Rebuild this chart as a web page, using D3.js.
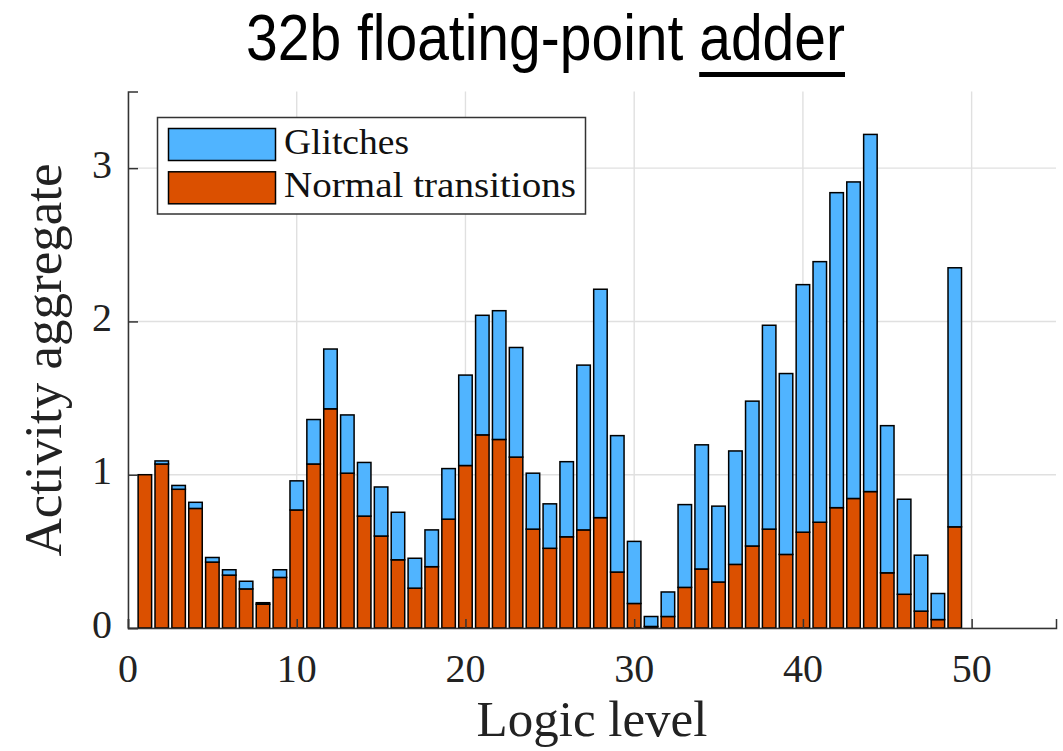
<!DOCTYPE html>
<html>
<head>
<meta charset="utf-8">
<script src="https://cdn.jsdelivr.net/npm/d3@7"></script>
<style>
  html, body { margin: 0; padding: 0; background: #fff; }
  svg { display: block; }
</style>
</head>
<body>
<svg id="chart" width="1063" height="751"></svg>
<script>
// Logic levels of the adder netlist
const levels = [1,2,3,4,5,6,7,8,9,10,11,12,13,14,15,16,17,18,19,20,21,22,23,24,25,
                26,27,28,29,30,31,32,33,34,35,36,37,38,39,40,41,42,43,44,45,46,47,48,49];

// Aggregate activity from regular (functional) transitions per level
const normalTransitions = [1.00,1.07,0.905,0.78,0.43,0.345,0.255,0.155,0.33,0.77,
                           1.07,1.43,1.01,0.73,0.60,0.445,0.26,0.40,0.71,1.06,
                           1.26,1.23,1.115,0.645,0.52,0.595,0.64,0.72,0.365,0.16,
                           0.01,0.075,0.265,0.385,0.30,0.415,0.535,0.645,0.48,0.625,
                           0.69,0.785,0.845,0.89,0.36,0.22,0.11,0.055,0.66];

// Aggregate activity from glitches per level (stacked on top)
const glitches = [0.00,0.02,0.025,0.04,0.03,0.035,0.05,0.01,0.05,0.19,
                  0.29,0.39,0.38,0.35,0.32,0.31,0.195,0.24,0.33,0.59,
                  0.78,0.84,0.715,0.365,0.29,0.49,1.075,1.49,0.89,0.405,
                  0.065,0.16,0.54,0.81,0.495,0.74,0.945,1.33,1.18,1.615,
                  1.70,2.055,2.065,2.33,0.96,0.62,0.365,0.17,1.69];

const seriesNames = ["Normal transitions", "Glitches"];
const legendOrder = ["Glitches", "Normal transitions"];
const xTicks = [0, 10, 20, 30, 40, 50];
const yTicks = [0, 1, 2, 3];

const colors = { "Glitches": "#50B4FF", "Normal transitions": "#DB5000" };
const legendWidths = { "Glitches": 125, "Normal transitions": 292 };

const svg = d3.select("#chart");
const plot = { left: 128, right: 1056, top: 91.5, bottom: 628 };

const x = d3.scaleLinear().domain([0, 55]).range([plot.left, plot.right]);
const y = d3.scaleLinear().domain([0, 3.5]).range([plot.bottom, plot.top]);

const barWidth = 0.8;

// Table of rows for stacking
const rows = levels.map((lv, i) => ({
  level: lv,
  "Normal transitions": normalTransitions[i],
  "Glitches": glitches[i]
}));
const stacked = d3.stack().keys(seriesNames)(rows);

// Grid
const grid = svg.append("g").attr("class", "grid");
grid.selectAll("line.gx").data(xTicks).join("line")
  .attr("x1", d => x(d)).attr("x2", d => x(d))
  .attr("y1", plot.top).attr("y2", plot.bottom)
  .attr("stroke", "#e0e0e0").attr("stroke-width", 1.4);
grid.selectAll("line.gy").data(yTicks).join("line")
  .attr("x1", plot.left).attr("x2", plot.right)
  .attr("y1", d => y(d)).attr("y2", d => y(d))
  .attr("stroke", "#e0e0e0").attr("stroke-width", 1.4);

// Stacked bars
const layers = svg.append("g").attr("class", "bars")
  .selectAll("g").data(stacked).join("g")
  .attr("fill", d => colors[d.key]);

layers.selectAll("rect")
  .data(d => d.filter(p => p[1] - p[0] > 0))
  .join("rect")
  .attr("x", p => x(p.data.level - barWidth / 2))
  .attr("width", p => x(barWidth) - x(0))
  .attr("y", p => y(p[1]))
  .attr("height", p => y(p[0]) - y(p[1]))
  .attr("stroke", "#000")
  .attr("stroke-width", 1.5);

// Axes: left and bottom spines with inward ticks
const axisColor = "#333";
const xAxis = d3.axisBottom(x).tickValues(xTicks).tickSize(-9).tickFormat("");
const yAxis = d3.axisLeft(y).tickValues(yTicks).tickSize(-10).tickFormat("");

const gx = svg.append("g").attr("transform", `translate(0,${plot.bottom})`).call(xAxis);
const gy = svg.append("g").attr("transform", `translate(${plot.left},0)`).call(yAxis);
[gx, gy].forEach(g => {
  g.select(".domain").attr("stroke", axisColor).attr("stroke-width", 1.5);
  g.selectAll(".tick line").attr("stroke", axisColor).attr("stroke-width", 1.5);
});

// Tick labels
const serif = "'Liberation Serif', 'Times New Roman', serif";
svg.append("g").selectAll("text").data(xTicks).join("text")
  .attr("x", d => x(d)).attr("y", 682)
  .attr("text-anchor", "middle")
  .attr("font-family", serif).attr("font-size", 40).attr("fill", "#222")
  .text(d => d);

svg.append("g").selectAll("text").data(yTicks).join("text")
  .attr("x", 112).attr("y", d => y(d) + 9.5)
  .attr("text-anchor", "end")
  .attr("font-family", serif).attr("font-size", 40).attr("fill", "#222")
  .text(d => d);

// Axis titles
svg.append("text")
  .attr("x", (plot.left + plot.right) / 2).attr("y", 736)
  .attr("text-anchor", "middle")
  .attr("font-family", serif).attr("font-size", 51).attr("fill", "#222")
  .text("Logic level");

svg.append("text")
  .attr("transform", "translate(61,360) rotate(-90)")
  .attr("text-anchor", "middle")
  .attr("font-family", serif).attr("font-size", 53).attr("fill", "#222")
  .text("Activity aggregate");

// Title, with its last word underlined
const titleText = "32b floating-point adder";
const underlined = "adder";
const title = svg.append("text")
  .attr("x", 246).attr("y", 60)
  .attr("font-family", "'Liberation Sans', Arial, sans-serif")
  .attr("font-size", 64).attr("fill", "#000")
  .attr("textLength", 599).attr("lengthAdjust", "spacingAndGlyphs")
  .text(titleText);

const tNode = title.node();
const uStart = titleText.indexOf(underlined);
const ux0 = tNode.getStartPositionOfChar(uStart).x;
const ux1 = tNode.getEndPositionOfChar(titleText.length - 1).x;
svg.append("rect")
  .attr("x", ux0).attr("y", 72)
  .attr("width", ux1 - ux0).attr("height", 5)
  .attr("fill", "#000");

// Legend
const legend = svg.append("g");
legend.append("rect")
  .attr("x", 157.5).attr("y", 117.5).attr("width", 428).attr("height", 96.5)
  .attr("fill", "#fff").attr("stroke", "#333").attr("stroke-width", 1.5);

legendOrder.forEach((name, i) => {
  const yy = 128.5 + i * 43.3;
  legend.append("rect")
    .attr("x", 168.5).attr("y", yy).attr("width", 107).attr("height", 32)
    .attr("fill", colors[name]).attr("stroke", "#000").attr("stroke-width", 1.5);
  legend.append("text")
    .attr("x", 284).attr("y", yy + 25)
    .attr("font-family", serif).attr("font-size", 36).attr("fill", "#111")
    .attr("textLength", legendWidths[name]).attr("lengthAdjust", "spacingAndGlyphs")
    .text(name);
});
</script>
</body>
</html>
